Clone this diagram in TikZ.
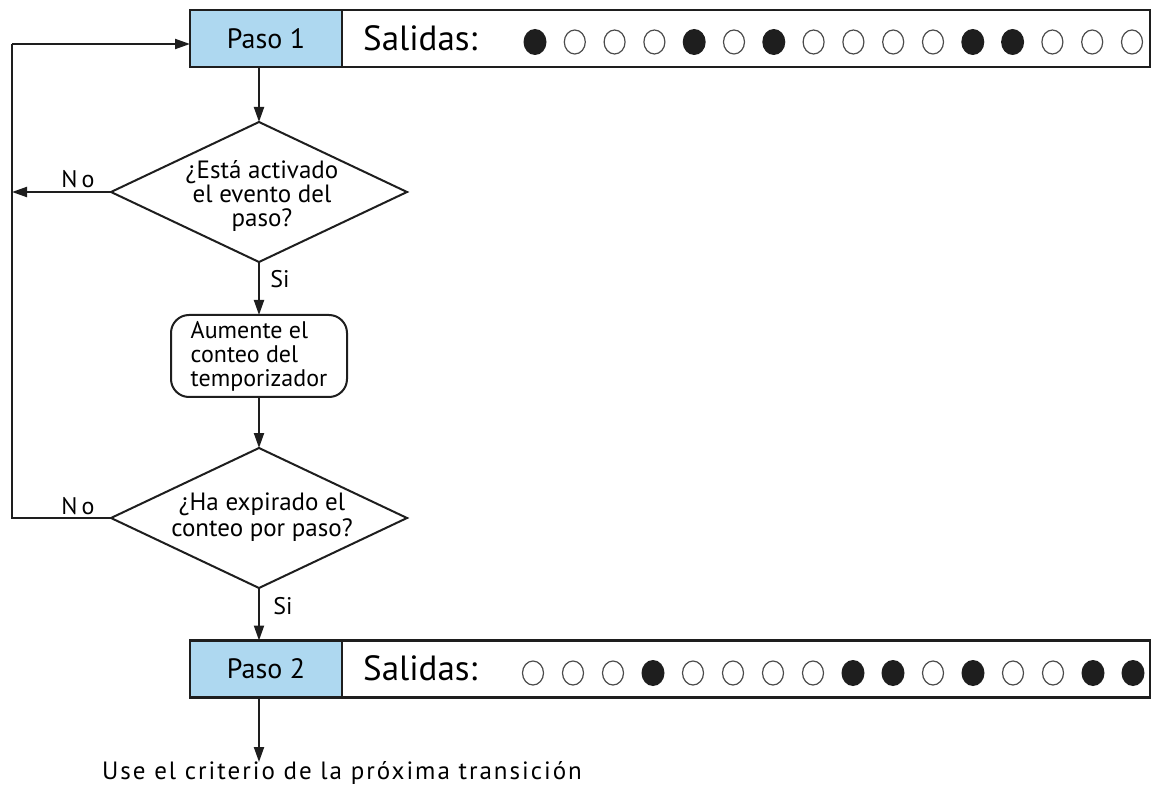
\documentclass[tikz,border=0pt]{standalone}
\usepackage{fontspec}
\setmainfont{PT Sans}
\usetikzlibrary{arrows.meta,shapes.geometric}
\definecolor{stepblue}{RGB}{174,216,240}
\definecolor{ink}{RGB}{30,30,30}

\begin{document}
\begin{tikzpicture}[x=1pt,y=-1pt,
  line/.style={line width=2pt, draw=ink},
  arr/.style={line, -{Triangle[length=15pt,width=10pt]}},
  bar/.style={draw=ink, line width=2.6pt, minimum width=960pt, minimum height=57pt,
              inner sep=0pt, outer sep=0pt},
  stepbox/.style={draw=ink, line width=2.6pt, fill=stepblue, minimum width=152pt,
              minimum height=57pt, inner sep=0pt, outer sep=0pt,
              font=\fontsize{28}{30}\selectfont},
  outlabel/.style={anchor=west, inner sep=0pt, font=\fontsize{35}{38}\selectfont},
  ledon/.style={ellipse, fill=ink, minimum width=23pt, minimum height=26pt, inner sep=0pt},
  ledoff/.style={ellipse, draw=ink!80, line width=1.2pt, fill=white,
              minimum width=21pt, minimum height=24pt, inner sep=0pt},
  decision/.style={diamond, draw=ink, line width=2pt, minimum width=296pt,
              minimum height=140pt, inner sep=0pt, outer sep=0pt},
  dtext/.style={align=center, inner sep=0pt, font=\fontsize{25}{24}\selectfont},
  process/.style={draw=ink, line width=2pt, rounded corners=18pt, minimum width=176pt,
              minimum height=82pt, inner sep=1pt, outer sep=0pt, align=left,
              font=\fontsize{24}{24}\selectfont},
  tag/.style={inner sep=0pt, font=\fontsize{24}{26}\selectfont}
]
\useasboundingbox (0,0) rectangle (1152,786);

% step 1 with its output pattern
\node[bar] (bar1) at (670,38.5) {};
\node[stepbox] (paso1) at (266,38.5) {Paso 1};
\node[outlabel] (sal1) at (363,38) {Salidas:};
\foreach \v [count=\i] in {1,0,0,0,1,0,1,0,0,0,0,1,1,0,0,0} {
  \ifnum\v=1
    \node[ledon] (p1led\i) at ({535+39.8*(\i-1)},42) {};
  \else
    \node[ledoff] (p1led\i) at ({535+39.8*(\i-1)},42) {};
  \fi
}

% first decision
\node[decision] (dec1) at (259,192) {};
\node[dtext] (dec1t) at (262,196) {¿Está activado\\el evento del\\paso?};

% timer increment
\node[process] (inc) at (259,356) {Aumente el\\conteo del\\temporizador};

% second decision
\node[decision] (dec2) at (259,518) {};
\node[dtext, font=\fontsize{25}{26}\selectfont] (dec2t) at (262,517) {¿Ha expirado el\\conteo por paso?};

% step 2 with its output pattern
\node[bar] (bar2) at (670,669) {};
\node[stepbox] (paso2) at (266,669) {Paso 2};
\node[outlabel] (sal2) at (363,668) {Salidas:};
\foreach \v [count=\i] in {0,0,0,1,0,0,0,0,1,1,0,1,0,0,1,1} {
  \ifnum\v=1
    \node[ledon] (p2led\i) at ({533+40*(\i-1)},673) {};
  \else
    \node[ledoff] (p2led\i) at ({533+40*(\i-1)},673) {};
  \fi
}

% loop-back rail on the left
\coordinate (railTop) at (12,44);
\coordinate (railNo1) at (12,192);
\coordinate (railBot) at (12,518);
\coordinate (exitEnd) at (259,762);

% connectors
\draw[arr] (dec1.north |- paso1.south) -- (dec1.north);
\draw[arr] (dec1.west) -- (railNo1);
\draw[arr] (dec1.south) -- (inc.north);
\draw[arr] (inc.south) -- (dec2.north);
\draw[line] (dec2.west) -- (railBot) -- (railTop);
\draw[arr] (railTop) -- (railTop -| paso1.west);
\draw[arr] (dec2.south) -- (dec2.south |- paso2.north);
\draw[arr] (exitEnd |- paso2.south) -- (exitEnd);

% branch labels
\node[tag] (no1) at (78,179) {N\hspace{4pt}o};
\node[tag] (si1) at (280,279) {Si};
\node[tag] (no2) at (78,506) {N\hspace{4pt}o};
\node[tag] (si2) at (283,606) {Si};

\node[tag, font=\fontsize{25}{26}\selectfont\addfontfeature{LetterSpace=8}] (next)
  at (342,773) {Use el criterio de la próxima transición};
\end{tikzpicture}
\end{document}
